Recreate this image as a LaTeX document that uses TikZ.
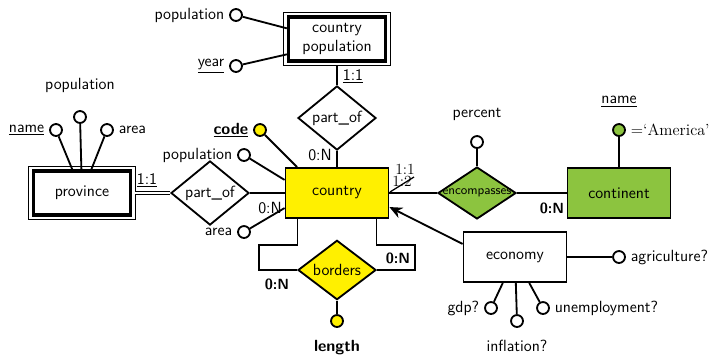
\documentclass[tikz,border=0pt]{standalone}
\usepackage{tikz}
\usetikzlibrary{positioning,arrows.meta,shapes.geometric,calc}
\definecolor{eryellow}{HTML}{FFF000}
\definecolor{ergreen}{HTML}{8CC43F}
\tikzset{
  ent/.style={rectangle,draw=black,fill=white,line width=1.3pt,align=center,
    minimum width=2.575cm,minimum height=1.25cm,inner sep=2pt},
  weak/.style={ent,line width=2.2pt,minimum width=2.43cm,minimum height=1.1cm},
  weakout/.style={line width=0.9pt,draw=black},
  rel/.style={diamond,draw=black,fill=white,line width=1.3pt,
    minimum width=1.95cm,minimum height=1.3cm,inner sep=0pt},
  attr/.style={circle,draw=black,fill=white,line width=1.3pt,
    minimum size=8.5pt,inner sep=0pt,label distance=1pt},
  ln/.style={line width=1.3pt,draw=black},
  card/.style={inner sep=1pt},
  cardb/.style={inner sep=1pt,font=\fontsize{10.5}{12}\selectfont\sffamily\bfseries},
  cardr/.style={inner sep=1pt,font=\fontsize{11}{12}\selectfont\rmfamily},
  arr/.style={-{Stealth[length=3.2mm,width=2.8mm]},line width=1.3pt},
}
\newcommand{\ul}[1]{\underline{#1}}
\begin{document}
\begin{tikzpicture}[x=0.025cm,y=-0.025cm,font=\fontsize{11.5}{13}\selectfont\sffamily]
  \useasboundingbox (0,0) rectangle (714,357);
  % entities
  \node[weak] (cpop) at (337,39) {country\\population};
  \draw[weakout] ($(cpop.north west)+(-3,-3)$) rectangle ($(cpop.south east)+(3,3)$);
  \node[ent,fill=eryellow] (country) at (337,193) {country};
  \node[weak] (prov) at (82,193) {province};
  \draw[weakout] ($(prov.north west)+(-3,-3)$) rectangle ($(prov.south east)+(3,3)$);
  \node[ent,fill=ergreen] (cont) at (619,193) {continent};
  \node[ent] (econ) at (515,257) {economy};
  % relationships
  \node[rel] (partA) at (337,118) {part\_of};
  \node[rel] (partB) at (210,193) {part\_of};
  \node[rel,fill=ergreen] (encomp) at (477,193)
    {\makebox[0pt]{\fontsize{9}{10}\selectfont encompasses}};
  \node[rel,fill=eryellow] (bord) at (337,270) {borders};
  % attributes
  \node[attr,label=left:population] (cpopP) at (236,15) {};
  \node[attr,label=left:\ul{year}] (cpopY) at (236,66) {};
  \node[attr,fill=eryellow,label=left:\textbf{\ul{code}}] (ccode) at (260,130) {};
  \node[attr,label=left:population] (cpopu) at (244,155) {};
  \node[attr,label=left:area] (carea) at (244,232) {};
  \node[attr,label=left:\ul{name}] (pname) at (56,130) {};
  \node[attr,label={[label distance=9pt]above:population}] (ppopu) at (80,117) {};
  \node[attr,label=right:area] (parea) at (107,130) {};
  \node[attr,label={[label distance=7pt]above:percent}] (eperc) at (477,142) {};
  \node[attr,fill=ergreen,label={[label distance=8pt]above:\ul{name}},
    label={right:\rmfamily =`America'}] (cname) at (619,130) {};
  \node[attr,label=right:agriculture?] (eagri) at (619,257) {};
  \node[attr,label=left:gdp?] (egdp) at (491,308) {};
  \node[attr,label=right:unemployment?] (eunem) at (543,308) {};
  \node[attr,label={[label distance=5pt]below:inflation?}] (einfl) at (517,321) {};
  \node[attr,fill=eryellow,label={[label distance=5pt]below:\textbf{length}}] (blen) at (337,321) {};
  % attribute lines
  \draw[ln] (cpopP) -- (cpop.168);
  \draw[ln] (cpopY) -- (cpop.197);
  \draw[ln] (ccode) -- (country.147);
  \draw[ln] (cpopu) -- (country.166);
  \draw[ln] (carea) -- (country.196);
  \draw[ln] (pname) -- (prov);
  \draw[ln] (ppopu) -- (prov);
  \draw[ln] (parea) -- (prov);
  \draw[ln] (eperc) -- (encomp);
  \draw[ln] (cname) -- (cont);
  \draw[ln] (eagri) -- (econ);
  \draw[ln] (egdp) -- (econ);
  \draw[ln] (eunem) -- (econ);
  \draw[ln] (einfl) -- (econ);
  \draw[ln] (blen) -- (bord);
  % relationship lines
  \draw[ln] ($(cpop.south)+(0,3)$) -- (partA);
  \draw[ln] (partA) -- (country);
  \draw[ln,double,line width=0.8pt,double distance=1.2pt] ($(prov.east)+(3,0)$) -- (partB);
  \draw[ln] (partB) -- (country);
  \draw[ln] (country) -- (encomp);
  \draw[ln] (encomp) -- (cont);
  \draw[ln] (bord.west) -- ++(-38,0) -- ++(0,-25) -| ($(country.south west)+(13,0)$);
  \draw[ln] (bord.east) -- ++(38,0) -- ++(0,-25) -| ($(country.south east)+(-13,0)$);
  \draw[arr] (econ.166) -- (country.-15);
  % cardinalities
  \node[card] (cA) at (353,76) {\ul{1:1}};
  \node[card] (cB) at (320,155) {0:N};
  \node[card] (cC) at (147,180) {\ul{1:1}};
  \node[card] (cD) at (270,208) {0:N};
  \node[cardr] (cE) at (405,169) {1:1};
  \node[cardr] (cF) at (402,181) {1:2};
  \draw[line width=0.9pt] (390,192) -- (414,177);
  \node[cardb] (cG) at (552,208) {0:N};
  \node[cardb] (cH) at (398,258) {0:N};
  \node[cardb] (cI) at (277,284) {0:N};
\end{tikzpicture}
\end{document}
